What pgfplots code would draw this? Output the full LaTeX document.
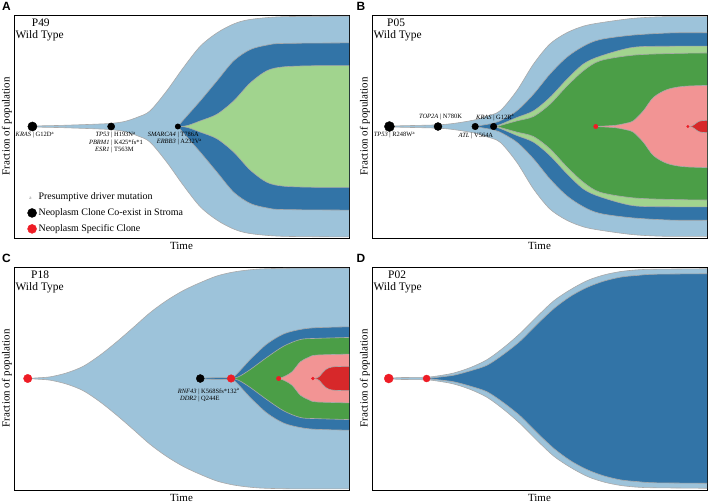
\documentclass[border=0pt]{standalone}
\usepackage{pgfplots}
\pgfplotsset{compat=1.18}
\usepackage{pgfplotstable}
\usepgfplotslibrary{fillbetween}
\usepackage{fontspec}
\setmainfont{Liberation Serif}
\newfontfamily\panelfont{Liberation Sans}

\definecolor{lb}{HTML}{9DC3DA}
\definecolor{db}{HTML}{3274A7}
\definecolor{lg}{HTML}{A1D48E}
\definecolor{gr}{HTML}{4B9E47}
\definecolor{pk}{HTML}{F29494}
\definecolor{rd}{HTML}{D7282A}
\definecolor{dotred}{HTML}{EE1C25}
\definecolor{bord}{HTML}{A9A9A9}

% half-widths of each clone (x = % of time axis, w = half of the band height)
\pgfplotstableread{
x w
5.5 0
8 0.006
14 0.01
23.6 0.02
29 0.028
33 0.045
37 0.085
40.6 0.14
45.6 0.32
50.6 0.53
55.6 0.72
60.6 0.84
65.6 0.92
70.5 0.96
80.5 0.985
102 0.99
}\Alb
\pgfplotstableread{
x w
48.9 0
50.6 0.06
55.6 0.23
60.6 0.41
65.6 0.59
70.5 0.69
75.5 0.73
80.5 0.745
102 0.75
}\Adb
\pgfplotstableread{
x w
50 0
52 0.01
55.6 0.05
60.6 0.11
65.6 0.23
70.5 0.39
75.5 0.5
80.5 0.535
90 0.545
102 0.545
}\Alg

\pgfplotstableread{
x w
5.2 0
8 0.006
19.7 0.015
25 0.03
30.8 0.06
34 0.09
38.2 0.14
43.2 0.32
48.2 0.56
53.1 0.74
58.1 0.84
63.1 0.9
68.1 0.93
78 0.97
88 0.985
102 0.985
}\Blb
\pgfplotstableread{
x w
30.8 0
33 0.012
36.3 0.03
38.2 0.05
43.2 0.14
48.2 0.29
53.1 0.47
58.1 0.62
63.1 0.72
68.1 0.78
78 0.82
90 0.84
102 0.84
}\Bdb
\pgfplotstableread{
x w
36.3 0
38.5 0.02
43.2 0.08
48.2 0.14
53.1 0.26
58.1 0.42
63.1 0.56
68.1 0.63
78 0.71
90 0.72
102 0.72
}\Blg
\pgfplotstableread{
x w
37.3 0
39 0.015
43.2 0.05
48.2 0.09
53.1 0.2
58.1 0.36
63.1 0.5
68.1 0.59
78 0.64
90 0.655
102 0.66
}\Bgr
\pgfplotstableread{
x w
66.8 0
70 0.005
73 0.012
76 0.03
78 0.05
81 0.14
84 0.26
88 0.33
93 0.36
102 0.37
}\Bpk
\pgfplotstableread{
x w
94.3 0
95.5 0.004
96.3 0.02
97.5 0.045
99 0.054
102 0.055
}\Brd

\pgfplotstableread{
x w
4.1 0
7 0.006
10.8 0.015
15.7 0.05
20.7 0.11
25.7 0.21
30.7 0.33
35.7 0.46
40.6 0.59
45.6 0.70
50.6 0.79
55.6 0.86
60.6 0.92
65.5 0.955
70.5 0.975
75.5 0.985
85 0.99
102 0.99
}\Clb
\pgfplotstableread{
x w
55.6 0
58 0.006
64.8 0.012
66.5 0.04
70.5 0.17
75.5 0.31
80.5 0.4
85.5 0.44
90.4 0.456
102 0.465
}\Cdb
\pgfplotstableread{
x w
64.8 0
67 0.015
70.5 0.08
75.5 0.19
80.5 0.29
85.5 0.35
90.4 0.36
102 0.37
}\Cgr
\pgfplotstableread{
x w
79 0
80.5 0.015
83 0.06
85.5 0.15
88 0.19
90.4 0.21
102 0.22
}\Cpk
\pgfplotstableread{
x w
89.2 0
90.5 0.006
91.5 0.03
93 0.08
95.4 0.105
102 0.11
}\Crd

\pgfplotstableread{
x w
5 0
8 0.008
16.3 0.012
20 0.025
24.5 0.05
29.5 0.10
34.4 0.17
39.4 0.28
44.4 0.41
49.4 0.56
54.4 0.70
59.4 0.80
64.4 0.88
69.4 0.93
74.4 0.96
79.4 0.975
84.3 0.98
102 0.985
}\Dlb
\pgfplotstableread{
x w
16.3 0
18 0.005
20 0.012
24.5 0.03
29.5 0.07
34.4 0.12
39.4 0.22
44.4 0.34
49.4 0.49
54.4 0.63
59.4 0.74
64.4 0.82
69.4 0.875
74.4 0.91
79.4 0.925
84.3 0.935
102 0.94
}\Ddb

\pgfplotsset{
  fish/.style={scale only axis, width=335bp, height=223bp,
    xmin=0, xmax=100, ymin=-1, ymax=1, xtick=\empty, ytick=\empty,
    axis line style={line width=1pt},
    xlabel=Time, ylabel=Fraction of population,
    label style={font=\fontsize{11}{13}\selectfont},
    xlabel style={at={(axis description cs:0.5,-0.034)}, anchor=center},
    ylabel style={at={(axis description cs:-0.021,0.5)}, anchor=center}},
  edge/.style={draw=bord, line width=0.6pt, smooth, tension=0.5, forget plot},
  ghost/.style={draw=none, smooth, tension=0.5, forget plot},
}
\tikzset{
  lab/.style={font=\fontsize{6.5}{7.2}\selectfont, align=center, inner sep=0pt},
  big/.style={font=\fontsize{11.5}{13}\selectfont, inner sep=0pt},
}

% one clone: upper edge, mirrored lower edge, fill in between, then the edges on top
\newcommand{\clone}[3]{%
  \addplot[ghost, name path=#3u] table[x=x, y=w] {#1};
  \addplot[ghost, name path=#3l] table[x=x, y expr=-\thisrow{w}] {#1};
  \addplot[fill=#2, draw=none, forget plot] fill between[of=#3u and #3l];
  \addplot[edge] table[x=x, y=w] {#1};
  \addplot[edge] table[x=x, y expr=-\thisrow{w}] {#1};
}
\newcommand{\mut}[2]{\makebox[0pt][r]{\textit{#1}\ }|\makebox[0pt][l]{\ #2}}
\newcommand{\dr}{\textsuperscript{a}}

\begin{document}
\begin{tikzpicture}

% ---- A ----
\begin{axis}[fish, at={(14bp,-15bp)}, anchor=north west,
  legend cell align=left,
  legend style={draw=none, fill=none, at={(axis description cs:0.028,0.012)},
    anchor=south west, font=\fontsize{10}{11.5}\selectfont, row sep=3.5pt, inner sep=0pt}]
  \clone{\Alb}{lb}{aa}
  \clone{\Adb}{db}{ab}
  \clone{\Alg}{lg}{ac}
  \addplot[only marks, mark=*, mark size=4.6bp, black, forget plot] coordinates {(5.5,0)};
  \addplot[only marks, mark=*, mark size=3.6bp, black, forget plot] coordinates {(29,0)};
  \addplot[only marks, mark=*, mark size=2.7bp, black, forget plot] coordinates {(48.9,0)};
  \addlegendimage{legend image code/.code={}}
  \addlegendentry{\llap{\fontsize{5}{5}\selectfont\color{gray}a\hspace{7pt}}Presumptive driver mutation}
  \addlegendimage{only marks, mark=*, mark size=4.5bp, black}
  \addlegendentry{Neoplasm Clone Co-exist in Stroma}
  \addlegendimage{only marks, mark=*, mark size=4.5bp, dotred}
  \addlegendentry{Neoplasm Specific Clone}
  \node[lab, anchor=north] at (axis cs:5.8,-0.05) {\mut{KRAS}{G12D\dr}};
  \node[lab, anchor=north] at (axis cs:29.2,-0.05) {\mut{TP53}{H193N\dr}\\ \mut{PBRM1}{K425*fs*1}\\ \mut{ESR1}{T563M}};
  \node[lab, anchor=north] at (axis cs:49,-0.05) {\mut{SMARCA4}{T786A}\\ \mut{ERBB3}{A232V\dr}};
  \node[big] at (axis description cs:0.08,0.965) {P49};
  \node[big, anchor=west] at (axis description cs:0.004,0.908) {Wild Type};
\end{axis}

% ---- B ----
\begin{axis}[fish, at={(372bp,-15bp)}, anchor=north west]
  \clone{\Blb}{lb}{ba}
  \clone{\Bdb}{db}{bb}
  \clone{\Blg}{lg}{bc}
  \clone{\Bgr}{gr}{bd}
  \clone{\Bpk}{pk}{be}
  \clone{\Brd}{rd}{bf}
  \addplot[only marks, mark=*, mark size=5bp, black] coordinates {(5.2,0)};
  \addplot[only marks, mark=*, mark size=4bp, black] coordinates {(19.7,0)};
  \addplot[only marks, mark=*, mark size=3.3bp, black] coordinates {(30.8,0) (36.3,0)};
  \addplot[only marks, mark=*, mark size=2.2bp, dotred] coordinates {(66.8,0)};
  \addplot[only marks, mark=*, mark size=1.3bp, dotred] coordinates {(94.3,0)};
  \node[lab, anchor=north] at (axis cs:5.4,-0.05) {\mut{TP53}{R248W\dr}};
  \node[lab, anchor=base] at (axis cs:20.5,0.075) {\mut{TOP2A}{N780K}};
  \node[lab, anchor=north] at (axis cs:29.8,-0.06) {\mut{ATL}{V564A}};
  \node[lab, anchor=base] at (axis cs:36.4,0.067) {\mut{KRAS}{G12R\dr}};
  \node[big] at (axis description cs:0.072,0.965) {P05};
  \node[big, anchor=west] at (axis description cs:0.004,0.908) {Wild Type};
\end{axis}

% ---- C ----
\begin{axis}[fish, at={(14bp,-267bp)}, anchor=north west]
  \clone{\Clb}{lb}{ca}
  \clone{\Cdb}{db}{cb}
  \clone{\Cgr}{gr}{cc}
  \clone{\Cpk}{pk}{cd}
  \clone{\Crd}{rd}{ce}
  \addplot[only marks, mark=*, mark size=4.2bp, dotred] coordinates {(4.1,0)};
  \addplot[only marks, mark=*, mark size=4bp, black] coordinates {(55.6,0)};
  \addplot[only marks, mark=*, mark size=3.8bp, dotred] coordinates {(64.8,0)};
  \addplot[only marks, mark=*, mark size=2.2bp, dotred] coordinates {(79,0)};
  \addplot[only marks, mark=*, mark size=1.5bp, dotred] coordinates {(89.2,0)};
  \node[lab, anchor=north] at (axis cs:55.2,-0.09) {\mut{RNF43}{K568Sfs*132\dr}\\ \mut{DDR2}{Q244E}};
  \node[big] at (axis description cs:0.078,0.967) {P18};
  \node[big, anchor=west] at (axis description cs:0.004,0.907) {Wild Type};
\end{axis}

% ---- D ----
\begin{axis}[fish, at={(372bp,-267bp)}, anchor=north west]
  \clone{\Dlb}{lb}{da}
  \clone{\Ddb}{db}{db}
  \addplot[only marks, mark=*, mark size=4.5bp, dotred] coordinates {(5,0)};
  \addplot[only marks, mark=*, mark size=3.5bp, dotred] coordinates {(16.3,0)};
  \node[big] at (axis description cs:0.075,0.967) {P02};
  \node[big, anchor=west] at (axis description cs:0.004,0.907) {Wild Type};
\end{axis}

\node[font=\panelfont\bfseries\fontsize{12}{12}\selectfont] at (6.5bp,-6.5bp) {A};
\node[font=\panelfont\bfseries\fontsize{12}{12}\selectfont] at (361bp,-6.5bp) {B};
\node[font=\panelfont\bfseries\fontsize{12}{12}\selectfont] at (6.5bp,-258bp) {C};
\node[font=\panelfont\bfseries\fontsize{12}{12}\selectfont] at (361bp,-258bp) {D};
\pgfresetboundingbox
\useasboundingbox (0,0) rectangle (708bp,-502bp);
\end{tikzpicture}
\end{document}
